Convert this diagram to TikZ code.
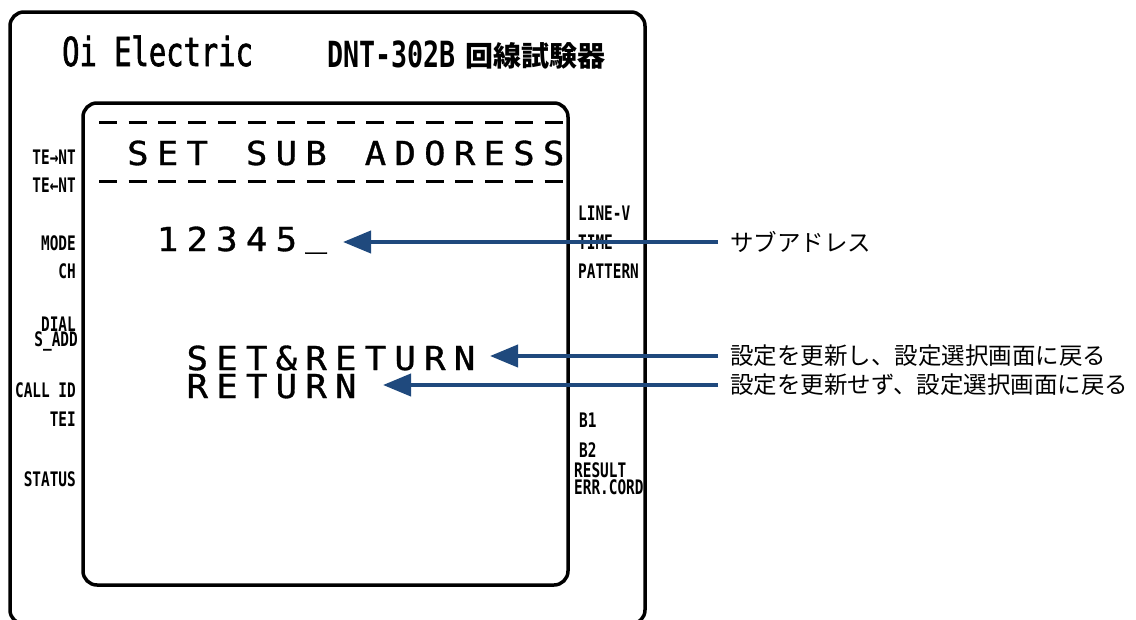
\documentclass[tikz,border=0pt]{standalone}
\usepackage{fontspec}
\usetikzlibrary{arrows.meta}
\setmainfont{DejaVu Sans}
\newfontfamily\jpfont{Noto Sans CJK JP}
\newfontfamily\lcdfont[FakeStretch=1.08,FakeBold=1]{DejaVu Sans Mono}
\newfontfamily\logofont[FakeStretch=0.72,FakeBold=1.5]{DejaVu Sans Mono}
\newfontfamily\modelfont[FakeStretch=0.74]{DejaVu Sans Mono}
\newfontfamily\labfont[FakeStretch=0.72]{DejaVu Sans Mono}
\definecolor{arrowblue}{RGB}{31,73,125}
\newlength\lcdpitch \setlength\lcdpitch{29.7pt}
\ExplSyntaxOn
\NewDocumentCommand\lcdtext{m}{\str_map_inline:nn{#1}{\str_if_eq:nnTF{##1}{_}{\makebox[\lcdpitch][c]{\raisebox{5pt}{##1}}}{\makebox[\lcdpitch][c]{##1}}}}
\ExplSyntaxOff
\tikzset{
  box/.style={line width=3.5pt, rounded corners=14pt},
  lab/.style={font=\labfont\bfseries\fontsize{20}{20}\selectfont, inner sep=0, text height=14pt, text depth=0pt},
  lcd/.style={font=\lcdfont\fontsize{33}{33}\selectfont, inner sep=0, anchor=base west, text height=24pt, text depth=0pt},
  jp/.style={font=\jpfont\fontsize{23.5}{23.5}\selectfont, inner xsep=12pt, inner ysep=0, anchor=west},
  arr/.style={draw=arrowblue, line width=4pt, -{Triangle[length=28pt,width=22pt]}},
  dashrow/.style={line width=3pt, dash pattern=on 18pt off 11.7pt},
}
\begin{document}
\begin{tikzpicture}[x=1pt,y=-1pt]
\useasboundingbox (0,0) rectangle (1136,619);
% housing and screen
\draw[box] (10,12) rectangle (645,624);
\draw[box] (83,103) rectangle (568,585);
% title
\node[anchor=base west, inner sep=0, font=\logofont\fontsize{40}{40}\selectfont] (logo) at (62,66) {Oi Electric};
\node[anchor=base west, inner sep=0, font=\modelfont\bfseries\fontsize{36}{36}\selectfont] (model) at (327,67) {DNT-302B};
\node[anchor=base west, inner sep=0, font=\jpfont\bfseries\fontsize{28}{28}\selectfont] (kind) at (465,66) {回線試験器};
% LCD content
\coordinate (dashA) at (99,122.5);
\coordinate (dashB) at (563,122.5);
\coordinate (dashC) at (99,181.5);
\coordinate (dashD) at (563,181.5);
\draw[dashrow] (dashA) -- (dashB);
\draw[dashrow] (dashC) -- (dashD);
\node[lcd] (head) at (122.85,165) {\lcdtext{SET SUB ADORESS}};
\node[lcd] (addr) at (152.55,251) {\lcdtext{12345_}};
\node[lcd] (setret) at (182.25,370) {\lcdtext{SET&RETURN}};
\node[lcd] (ret) at (182.25,398) {\lcdtext{RETURN}};
% left labels
\node[lab, anchor=east] (tent) at (76,157) {TE→NT};
\node[lab, anchor=east] (ntte) at (76,185) {TE←NT};
\node[lab, anchor=east] (mode) at (76,243) {MODE};
\node[lab, anchor=east] (ch) at (76,271) {CH};
\node[lab, anchor=east] (dial) at (76,324) {DIAL};
\node[lab, anchor=east] (sadd) at (78,339) {S\_ADD};
\node[lab, anchor=east] (callid) at (76,390) {CALL ID};
\node[lab, anchor=east] (tei) at (76,419) {TEI};
\node[lab, anchor=east] (status) at (76,479) {STATUS};
% right labels
\node[lab, anchor=west] (linev) at (578,213) {LINE-V};
\node[lab, anchor=west] (time) at (578,242) {TIME};
\node[lab, anchor=west] (pattern) at (578,271) {PATTERN};
\node[lab, anchor=west] (bone) at (579,420) {B1};
\node[lab, anchor=west] (btwo) at (579,450) {B2};
\node[lab, anchor=west] (result) at (574,470) {RESULT};
\node[lab, anchor=west] (errcord) at (574,487) {ERR.CORD};
% annotations
\node[jp] (subnote) at (718,242) {サブアドレス};
\node[jp] (setnote) at (718,356) {設定を更新し、設定選択画面に戻る};
\node[jp] (retnote) at (718,385) {設定を更新せず、設定選択画面に戻る};
\coordinate (tipA) at (343,242);
\coordinate (tipB) at (490,356);
\coordinate (tipC) at (383,385);
\draw[arr] (subnote.west) -- (tipA);
\draw[arr] (setnote.west) -- (tipB);
\draw[arr] (retnote.west) -- (tipC);
\end{tikzpicture}
\end{document}
